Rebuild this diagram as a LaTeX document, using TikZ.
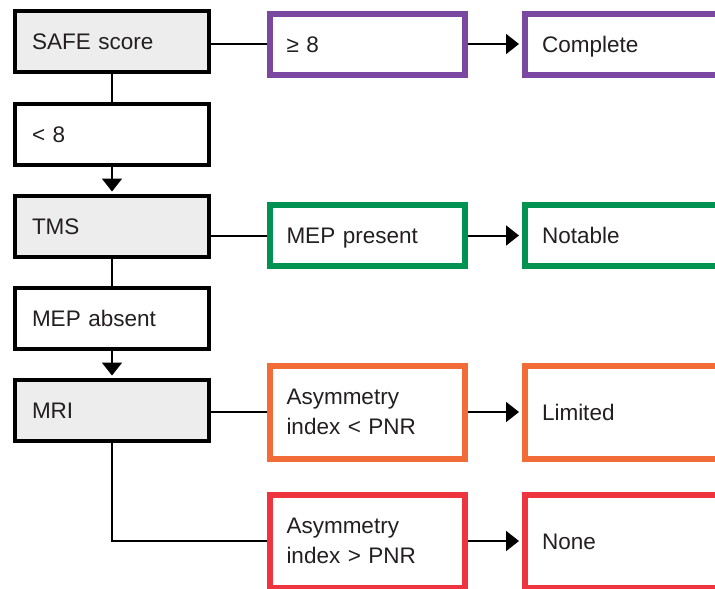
\documentclass[tikz,border=0pt]{standalone}
\usepackage{fontspec}
\setmainfont{Liberation Sans}
\usetikzlibrary{arrows.meta,positioning}
\definecolor{boxgray}{RGB}{237,237,237}
\definecolor{textgray}{RGB}{35,31,32}
\definecolor{safepurple}{RGB}{122,72,160}
\definecolor{tmsgreen}{RGB}{0,146,80}
\definecolor{mriorange}{RGB}{242,108,55}
\definecolor{mrired}{RGB}{238,52,62}

\begin{document}
\begin{tikzpicture}[x=1pt,y=-1pt,node distance=92pt,on grid,
        font=\fontsize{22.5}{30}\selectfont,text=textgray,
        oneline/.style={text height=16pt,text depth=0pt},
        box/.style={draw=black,line width=4pt,minimum width=194pt,minimum height=61pt,
            text width=160pt,inner xsep=17pt,inner ysep=2pt,align=left,oneline},
        test/.style={box,fill=boxgray},
        outcome/.style={draw=#1,line width=6pt,fill=white,minimum width=195pt,minimum height=61pt,
            text width=161pt,inner xsep=17pt,inner ysep=2pt,align=left},
        result/.style={outcome=#1,oneline},
        tallresult/.style={outcome=#1,minimum height=93pt},
        link/.style={draw=black,line width=2pt},
        arr/.style={link,-{Triangle[length=13pt,width=20pt]}}]
    \useasboundingbox (0,0) rectangle (715,589);
    % left column
    \node[test] (safe) at (112,41) {SAFE score};
    \node[box] (lowscore) [below=93pt of safe] {< 8};
    \node[test] (tms) [below=of lowscore] {TMS};
    \node[box] (mepabs) [below=of tms] {MEP absent};
    \node[test] (mri) [below=of mepabs] {MRI};
    % outcomes
    \node[result=safepurple] (highscore) at (367,44) {≥ 8};
    \node[result=safepurple] (complete) [right=255.5pt of highscore] {Complete};
    \node[result=tmsgreen] (meppres) at (367,235.5) {MEP present};
    \node[result=tmsgreen] (notable) [right=255.5pt of meppres] {Notable};
    \node[tallresult=mriorange] (asymlow) at (367,412) {Asymmetry\\index < PNR};
    \node[tallresult=mriorange,oneline] (limited) [right=255.5pt of asymlow] {Limited};
    \node[tallresult=mrired] (asymhigh) at (367,541) {Asymmetry\\index > PNR};
    \node[tallresult=mrired,oneline] (none) [right=255.5pt of asymhigh] {None};

    \path[link]
        (safe) edge (lowscore)
        (tms) edge (mepabs)
        (safe.east |- highscore) edge (highscore)
        (tms.east |- meppres) edge (meppres)
        (mri.east |- asymlow) edge (asymlow);
    \draw[link] (mri) |- (asymhigh);
    \path[arr,shorten >=2pt]
        (lowscore) edge (tms)
        (mepabs) edge (mri);
    \path[arr,shorten >=3pt]
        (highscore) edge (complete)
        (meppres) edge (notable)
        (asymlow) edge (limited)
        (asymhigh) edge (none);
\end{tikzpicture}
\end{document}
